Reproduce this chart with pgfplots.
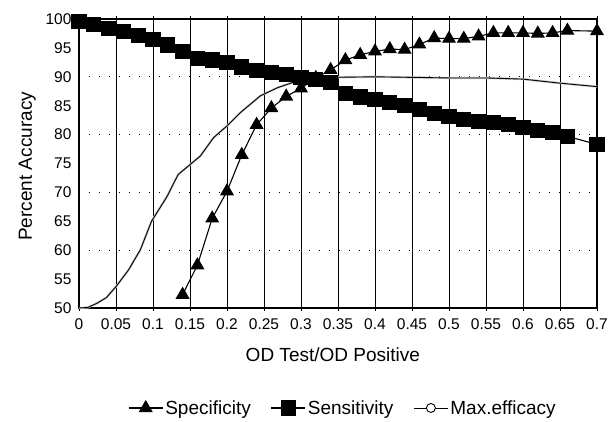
\documentclass[border=0pt]{standalone}
\usepackage{pgfplots}
\pgfplotsset{compat=1.18}
\usepackage{pgfplotstable}
\usepackage{fontspec}
\setmainfont{Liberation Sans}

% Legend samples: a long line with the mark in its middle
\pgfplotsset{
  longline legend/.style={
    legend image code/.code={\draw[mark repeat=2,mark phase=2,##1] plot coordinates {(0pt,0pt) (17pt,0pt) (34pt,0pt)};}},
  circle legend/.style={
    legend image code/.code={\draw[black, line width=0.9pt] (0pt,0pt) -- (34pt,0pt); \draw[black, line width=0.9pt, fill=white] (17pt,0pt) circle (4.5pt);}},
}

% Specificity against the OD ratio
\pgfplotstableread{
x y
0.14 52.3
0.16 57.4
0.18 65.5
0.20 70.2
0.22 76.5
0.24 81.7
0.26 84.6
0.28 86.6
0.30 88.0
0.32 89.8
0.34 91.2
0.36 92.9
0.38 93.8
0.40 94.4
0.42 94.8
0.44 94.7
0.46 95.6
0.48 96.7
0.50 96.6
0.52 96.6
0.54 97.0
0.56 97.6
0.58 97.6
0.60 97.6
0.62 97.5
0.64 97.6
0.66 98.0
0.70 97.9
}\spec

% Sensitivity against the OD ratio
\pgfplotstableread{
x y
0.00 99.6
0.02 99.0
0.04 98.3
0.06 97.9
0.08 97.2
0.10 96.4
0.12 95.5
0.14 94.4
0.16 93.2
0.18 92.9
0.20 92.5
0.22 91.7
0.24 91.1
0.26 90.7
0.28 90.4
0.30 89.9
0.32 89.6
0.34 89.0
0.36 87.1
0.38 86.5
0.40 86.1
0.42 85.5
0.44 85.1
0.46 84.4
0.48 83.6
0.50 83.2
0.52 82.6
0.54 82.3
0.56 82.1
0.58 81.8
0.60 81.3
0.62 80.7
0.64 80.3
0.66 79.7
0.70 78.3
}\sens

% Maximum efficacy against the OD ratio
\pgfplotstableread{
x y
0.000 50.0
0.012 50.1
0.024 50.8
0.037 51.8
0.050 53.7
0.067 56.6
0.083 60.1
0.098 65.0
0.119 69.3
0.134 73.1
0.150 74.8
0.164 76.3
0.182 79.5
0.200 81.5
0.218 83.8
0.245 86.7
0.268 88.1
0.295 89.3
0.320 89.7
0.340 89.9
0.400 90.0
0.450 89.9
0.500 89.8
0.550 89.8
0.600 89.6
0.650 88.9
0.700 88.3
}\maxeff

\begin{document}
\begin{tikzpicture}
\begin{axis}[
  name=main,
  scale only axis,
  width=518pt, height=289pt,
  xmin=0, xmax=0.7, ymin=50, ymax=100,
  xtick={0,0.05,0.1,0.15,0.2,0.25,0.3,0.35,0.4,0.45,0.5,0.55,0.6,0.65,0.7},
  xticklabels={0,0.05,0.1,0.15,0.2,0.25,0.3,0.35,0.4,0.45,0.5,0.55,0.6,0.65,0.7},
  ytick={50,55,...,100},
  /pgf/number format/assume math mode=true,
  tick label style={font=\fontsize{15.5}{17}\selectfont},
  xticklabel style={yshift=-4pt},
  yticklabel style={xshift=-4pt},
  xtick align=outside,
  major tick length=3pt,
  xtick style={black, line width=0.9pt},
  ytick style={draw=none},
  xmajorgrids,
  major grid style={black, line width=0.9pt},
  extra y ticks={60,70,80,90},
  extra y tick labels={},
  extra y tick style={grid=major, major grid style={black, line width=0.8pt, dash pattern=on 1pt off 9pt}, tick style={draw=none}},
  axis line style={black, line width=1.1pt},
  xlabel={OD Test/OD Positive},
  ylabel={Percent Accuracy},
  label style={font=\fontsize{19}{22}\selectfont},
  xlabel style={at={(axis description cs:0.49,-0.163)}, anchor=center},
  ylabel style={at={(axis description cs:-0.1,0.49)}, anchor=center},
  legend columns=3,
  legend style={at={(axis description cs:0.0946,-0.346)}, anchor=west,
    draw=none, fill=none, inner sep=0pt,
    font=\fontsize{19}{22}\selectfont,
    /tikz/every even column/.append style={column sep=18pt}},
  legend cell align=left,
  clip=true,
]
\addplot[black, line width=1.1pt, mark=triangle*, mark size=7pt, longline legend]
  table[x=x,y=y]{\spec};
\addlegendentry{Specificity}
\addplot[black, line width=1.1pt, mark=square*, mark size=7pt, longline legend]
  table[x=x,y=y]{\sens};
\addlegendentry{Sensitivity}
\addplot[gray!45, line width=2.2pt, forget plot] table[x=x,y=y]{\maxeff};
\addplot[black, line width=0.9pt, no marks, circle legend]
  table[x=x,y=y]{\maxeff};
\addlegendentry{Max.efficacy}
\end{axis}
\pgfresetboundingbox
\path[use as bounding box] ([xshift=-79pt,yshift=-114pt]main.south west) rectangle ([xshift=12pt,yshift=19pt]main.north east);
\end{tikzpicture}
\end{document}
